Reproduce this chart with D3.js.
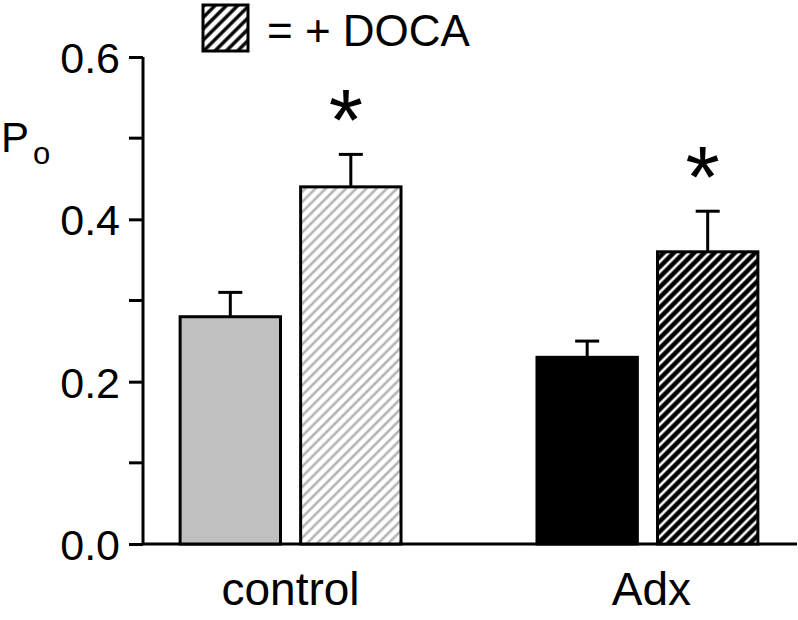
<!DOCTYPE html>
<html><head><meta charset="utf-8">
<script src="https://cdn.jsdelivr.net/npm/d3@7"></script>
<style>body{margin:0;background:#fff}svg{display:block}text{font-family:"Liberation Sans",Arial,sans-serif}</style>
</head><body><svg id="c" width="798" height="620"></svg>
<script>
const groups = ["control", "Adx"];
const conditions = ["base", "DOCA"];
const means = [[0.28, 0.44], [0.23, 0.36]];
const errors = [[0.03, 0.04], [0.02, 0.05]];
const significant = [[false, true], [false, true]];
const yTicks = [0.0, 0.2, 0.4, 0.6];
const yMinorTicks = [0.1, 0.3, 0.5];

const svg = d3.select("#c");
const defs = svg.append("defs");
function hatch(id, bg, fg, sw, sp) {
  const p = defs.append("pattern").attr("id", id).attr("patternUnits", "userSpaceOnUse")
    .attr("width", sp).attr("height", sp).attr("patternTransform", "rotate(45)");
  p.append("rect").attr("width", sp).attr("height", sp).attr("fill", bg);
  p.append("line").attr("x1", sp / 2).attr("y1", 0).attr("x2", sp / 2).attr("y2", sp)
    .attr("stroke", fg).attr("stroke-width", sw);
}
hatch("hLight", "#fff", "#b4b4b4", 2.6, 7.2);
hatch("hDark", "#000", "#fff", 2.6, 7.2);
hatch("hLegend", "#fff", "#000", 3.4, 8);

const y = d3.scaleLinear().domain([0, 0.6]).range([544, 57]);
const x0 = d3.scaleBand().domain(groups).range([143, 795]).paddingInner(0.381).paddingOuter(0.104);
const x1 = d3.scaleBand().domain(conditions).range([0, x0.bandwidth()]).paddingInner(0.167);
const fills = [["#c0c0c0", "url(#hLight)"], ["#000", "url(#hDark)"]];

// axes
const ax = svg.append("g").attr("transform", "translate(143,0)")
  .call(d3.axisLeft(y).tickValues(yTicks).tickFormat(d3.format(".1f")).tickSize(14).tickPadding(9));
ax.select(".domain").attr("stroke-width", 3).attr("d", `M0,${y(0.6)}V${y(0)}`);
ax.selectAll(".tick line").attr("stroke-width", 3);
ax.selectAll(".tick text").attr("font-size", 43).attr("fill", "#000").attr("dy", "0.36em");
svg.append("g").attr("transform", "translate(143,0)").selectAll("line").data(yMinorTicks).join("line")
  .attr("x1", -14).attr("x2", 0).attr("y1", d => y(d)).attr("y2", d => y(d))
  .attr("stroke", "#000").attr("stroke-width", 3);
svg.append("line").attr("x1", 143).attr("x2", 797).attr("y1", y(0)).attr("y2", y(0))
  .attr("stroke", "#000").attr("stroke-width", 3);

groups.forEach((g, gi) => {
  const gx = x0(g);
  conditions.forEach((c, ci) => {
    const bx = gx + x1(c), bw = x1.bandwidth();
    const m = means[gi][ci], e = errors[gi][ci];
    const cx = bx + bw / 2;
    svg.append("line").attr("x1", cx).attr("x2", cx).attr("y1", y(m)).attr("y2", y(m + e))
      .attr("stroke", "#000").attr("stroke-width", 3);
    svg.append("line").attr("x1", cx - 12).attr("x2", cx + 12).attr("y1", y(m + e)).attr("y2", y(m + e))
      .attr("stroke", "#000").attr("stroke-width", 3);
    svg.append("rect").attr("x", bx).attr("y", y(m)).attr("width", bw).attr("height", y(0) - y(m))
      .attr("fill", fills[gi][ci]).attr("stroke", "#000").attr("stroke-width", 3);
    if (significant[gi][ci]) {
      svg.append("text").attr("x", cx - 5).attr("y", y(m + e) - 4).attr("text-anchor", "middle")
        .attr("font-size", 88).text("*");
    }
  });
  svg.append("text").attr("x", gx + x0.bandwidth() / 2 + (gi ? 4 : 0)).attr("y", 605).attr("text-anchor", "middle")
    .attr("font-size", 46).text(g);
});

// y label
const yl = svg.append("text").attr("x", 1).attr("y", 152).attr("font-size", 42);
yl.append("tspan").text("P");
yl.append("tspan").attr("font-size", 31).attr("dx", 4).attr("dy", 12).text("o");

// legend
svg.append("rect").attr("x", 203).attr("y", 5).attr("width", 45).attr("height", 46)
  .attr("fill", "url(#hLegend)").attr("stroke", "#000").attr("stroke-width", 3);
svg.append("text").attr("x", 267).attr("y", 46).attr("font-size", 44).text("= + DOCA");
</script></body></html>
